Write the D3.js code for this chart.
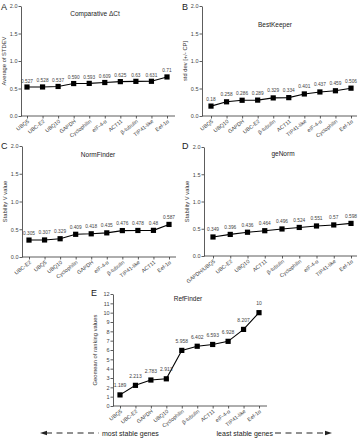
<!DOCTYPE html>
<html>
<head>
<meta charset="utf-8">
<script src="https://cdn.jsdelivr.net/npm/d3@7"></script>
<style>
  body { margin: 0; background: #fff; }
  svg { font-family: "Liberation Sans", Arial, sans-serif; }
</style>
</head>
<body>
<div id="chart"></div>
<script>
// data
const genesA = ['UBQ5', 'UBC-E2', 'UBQ10', 'GAPDH', 'Cyclophilin', 'eIF-4-α', 'ACT11', 'β-tubulin', 'TIP41-like', 'Eef-1α'];
const valuesA = [0.527, 0.528, 0.537, 0.59, 0.593, 0.609, 0.625, 0.63, 0.631, 0.71];
const labelsA = ['0.527', '0.528', '0.537', '0.590', '0.593', '0.609', '0.625', '0.63', '0.631', '0.71'];

const genesB = ['UBQ5', 'UBQ10', 'GAPDH', 'UBC-E2', 'β-tubulin', 'ACT11', 'TIP41-like', 'eIF-4-α', 'Cyclophilin', 'Eef-1α'];
const valuesB = [0.18, 0.258, 0.286, 0.289, 0.329, 0.334, 0.401, 0.437, 0.459, 0.506];

const genesC = ['UBC-E2', 'UBQ5', 'UBQ10', 'Cyclophilin', 'GAPDH', 'eIF-4-α', 'β-tubulin', 'TIP41-like', 'ACT11', 'Eef-1α'];
const valuesC = [0.305, 0.307, 0.329, 0.409, 0.418, 0.435, 0.476, 0.478, 0.48, 0.587];

const genesD = ['GAPDH/UBQ5', 'UBC-E2', 'UBQ10', 'ACT11', 'β-tubulin', 'Cyclophilin', 'eIF-4-α', 'TIP41-like', 'Eef-1α'];
const valuesD = [0.349, 0.396, 0.436, 0.464, 0.496, 0.524, 0.551, 0.57, 0.598];

const genesE = ['UBQ5', 'UBC-E2', 'GAPDH', 'UBQ10', 'Cyclophilin', 'β-tubulin', 'ACT11', 'eIF-4-α', 'TIP41-like', 'Eef-1α'];
const valuesE = [1.189, 2.213, 2.783, 2.913, 5.958, 6.402, 6.593, 6.928, 8.207, 10];

const ticksSmall = [0, 0.5, 1.0, 1.5, 2.0];
const ticksE = [0, 1, 2, 3, 4, 5, 6, 7, 8, 9, 10, 11, 12];

const width = 361, height = 445;

const svg = d3.select('#chart')
  .append('svg')
  .attr('width', width)
  .attr('height', height)
  .attr('viewBox', [0, 0, width, height]);

// one panel = line chart with square markers and value labels
function panel(p) {
  const g = svg.append('g');

  const x = d3.scalePoint()
    .domain(p.genes)
    .range([p.x0, p.x1]);

  const y = d3.scaleLinear()
    .domain([0, p.ymax])
    .range([p.yb, p.yt]);

  // y axis
  g.append('g')
    .attr('transform', `translate(${p.ax},0)`)
    .call(d3.axisLeft(y).tickValues(p.ticks).tickSize(2.5).tickSizeOuter(0)
      .tickFormat(p.fmt))
    .call((a) => a.select('.domain').attr('stroke', '#333').attr('stroke-width', 0.8))
    .call((a) => a.selectAll('.tick line').attr('stroke', '#333').attr('stroke-width', 0.8))
    .call((a) => a.selectAll('.tick text').attr('font-size', 5.5).attr('fill', '#444').attr('x', -3.5));

  // x axis: draw own baseline so it starts at the y axis
  const xa = g.append('g')
    .attr('transform', `translate(0,${p.yb})`)
    .call(d3.axisBottom(x).tickSize(2.5).tickSizeOuter(0));
  xa.select('.domain').remove();
  xa.selectAll('.tick line').attr('stroke', '#333').attr('stroke-width', 0.8);
  xa.selectAll('.tick text')
    .attr('font-size', 5.3)
    .attr('fill', '#444')
    .attr('text-anchor', 'end')
    .attr('dy', null)
    .attr('y', 0)
    .attr('transform', 'translate(2,6) rotate(-38)');
  g.append('line')
    .attr('x1', p.ax).attr('x2', p.axEnd)
    .attr('y1', p.yb).attr('y2', p.yb)
    .attr('stroke', '#333').attr('stroke-width', 0.8);

  const pts = p.genes.map((d, i) => ({
    gene: d,
    v: p.values[i],
    lab: p.labels ? p.labels[i] : String(p.values[i])
  }));

  g.append('path')
    .datum(pts)
    .attr('fill', 'none')
    .attr('stroke', '#000')
    .attr('stroke-width', 1.1)
    .attr('d', d3.line().x((d) => x(d.gene)).y((d) => y(d.v)));

  g.selectAll('rect.pt')
    .data(pts)
    .join('rect')
    .attr('class', 'pt')
    .attr('x', (d) => x(d.gene) - 2.6)
    .attr('y', (d) => y(d.v) - 2.6)
    .attr('width', 5.2)
    .attr('height', 5.2)
    .attr('fill', '#000');

  g.selectAll('text.val')
    .data(pts)
    .join('text')
    .attr('class', 'val')
    .attr('x', (d) => x(d.gene))
    .attr('y', (d) => y(d.v) - p.labDy)
    .attr('text-anchor', 'middle')
    .attr('font-size', p.labSize)
    .attr('fill', '#444')
    .text((d) => d.lab);

  // title
  g.append('text')
    .attr('x', p.tx).attr('y', p.ty)
    .attr('text-anchor', 'middle')
    .attr('font-size', 6.5)
    .attr('fill', '#222')
    .text(p.title);

  // panel letter
  g.append('text')
    .attr('x', p.lx).attr('y', p.ly)
    .attr('font-size', 9)
    .attr('fill', '#222')
    .text(p.letter);

  // y label
  g.append('text')
    .attr('transform', `translate(${p.ylx},${(p.yb + p.yt) / 2}) rotate(-90)`)
    .attr('text-anchor', 'middle')
    .attr('font-size', 5.8)
    .attr('fill', '#333')
    .text(p.ylabel);
}

const f1 = d3.format('.1f');

panel({ genes: genesA, values: valuesA, labels: labelsA, x0: 27, x1: 167, ax: 21, axEnd: 175, yb: 116, yt: 6, ymax: 2, ticks: ticksSmall, fmt: f1,
  title: 'Comparative ΔCt', tx: 95, ty: 16, letter: 'A', lx: 1, ly: 10, ylabel: 'Average of STDEV', ylx: 6, labDy: 4.5, labSize: 4.8 });

panel({ genes: genesB, values: valuesB, x0: 211, x1: 351, ax: 202, axEnd: 357, yb: 116, yt: 6, ymax: 2, ticks: ticksSmall, fmt: f1,
  title: 'BestKeeper', tx: 275, ty: 27, letter: 'B', lx: 182, ly: 10, ylabel: 'std dev [+/- CP]', ylx: 187, labDy: 5.5, labSize: 4.8 });

panel({ genes: genesC, values: valuesC, x0: 29, x1: 169, ax: 22, axEnd: 176, yb: 257, yt: 146, ymax: 2, ticks: ticksSmall, fmt: f1,
  title: 'NormFinder', tx: 98, ty: 157, letter: 'C', lx: 1, ly: 149, ylabel: 'Stability V value', ylx: 7, labDy: 5.5, labSize: 4.8 });

panel({ genes: genesD, values: valuesD, x0: 213, x1: 351, ax: 204, axEnd: 357, yb: 256, yt: 147, ymax: 2, ticks: ticksSmall, fmt: f1,
  title: 'geNorm', tx: 283, ty: 156, letter: 'D', lx: 182, ly: 149, ylabel: 'Stability V value', ylx: 189, labDy: 5.5, labSize: 4.8 });

panel({ genes: genesE, values: valuesE, x0: 120, x1: 259, ax: 113, axEnd: 267, yb: 406, yt: 294, ymax: 12, ticks: ticksE, fmt: d3.format('d'),
  title: 'RefFinder', tx: 188, ty: 301, letter: 'E', lx: 91, ly: 296, ylabel: 'Geomean of ranking values', ylx: 97, labDy: 7.5, labSize: 5 });

// bottom arrow legend
const ay = 433;
const legend = svg.append('g');
legend.append('line')
  .attr('x1', 46).attr('x2', 99).attr('y1', ay).attr('y2', ay)
  .attr('stroke', '#222').attr('stroke-width', 1).attr('stroke-dasharray', '6,4.5');
legend.append('path')
  .attr('d', `M40,${ay}L47,${ay - 2.2}L47,${ay + 2.2}Z`)
  .attr('fill', '#222');
legend.append('line')
  .attr('x1', 275).attr('x2', 327).attr('y1', ay).attr('y2', ay)
  .attr('stroke', '#222').attr('stroke-width', 1).attr('stroke-dasharray', '6,4.5');
legend.append('path')
  .attr('d', `M332,${ay}L325,${ay - 2.2}L325,${ay + 2.2}Z`)
  .attr('fill', '#222');
legend.append('text')
  .attr('x', 102).attr('y', ay + 2.5)
  .attr('font-size', 7)
  .attr('fill', '#222')
  .text('most stable genes');
legend.append('text')
  .attr('x', 273).attr('y', ay + 2.5)
  .attr('text-anchor', 'end')
  .attr('font-size', 7)
  .attr('fill', '#222')
  .text('least stable genes');
</script>
</body>
</html>
